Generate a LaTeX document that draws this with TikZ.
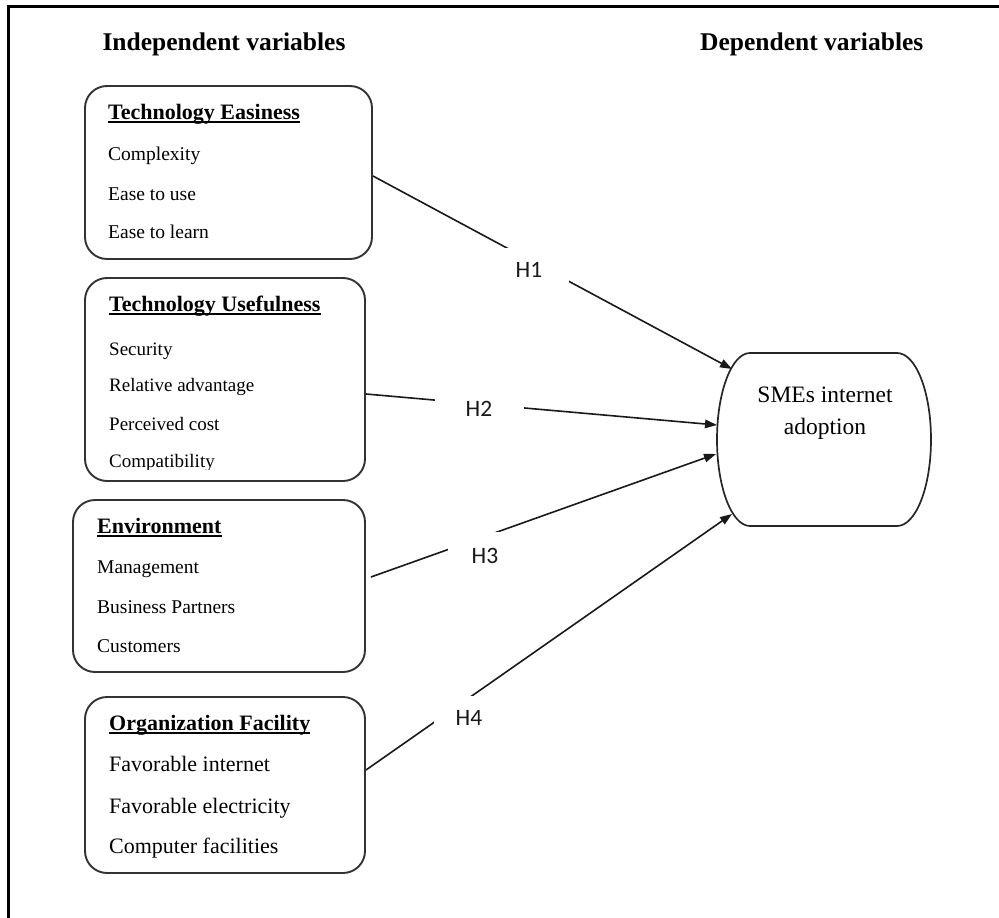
\documentclass[tikz,border=0pt]{standalone}
\usepackage{fontspec}
\setmainfont{Liberation Serif}
\newfontfamily\hlabfont{Carlito}
\usetikzlibrary{arrows.meta}
\tikzset{
  varbox/.style={draw=black!80, line width=1.9pt, rounded corners=22pt, inner sep=0pt},
  hdr/.style={font=\fontsize{25.5}{30}\selectfont\bfseries, inner sep=0pt},
  ttl/.style={font=\fontsize{22}{26}\selectfont\bfseries, inner sep=0pt, anchor=base west},
  itm/.style={font=\fontsize{19.5}{23}\selectfont, inner sep=0pt, anchor=base west},
  itmb/.style={font=\fontsize{22}{26}\selectfont, inner sep=0pt, anchor=base west},
  uline/.style={line width=1.4pt},
  conn/.style={draw=black!90, line width=1.6pt, -{Triangle[length=12pt,width=8.5pt]}},
  hlab/.style={font=\hlabfont\fontsize{23.5}{26}\selectfont, fill=white, inner sep=0pt, text=black!90},
  smeshape/.style={draw=black!85, line width=1.7pt}
}
\begin{document}
\begin{tikzpicture}[x=1pt,y=-1pt]
\useasboundingbox (0,0) rectangle (999,918);
% frame (cropped on the right and bottom)
\draw[line width=3pt] (999,6) -- (8,6) -- (8,918);

% headers
\node[hdr, anchor=base] (ind) at (224,50) {Independent variables};
\node[hdr, anchor=base west] (dep) at (700,50) {Dependent variables};

% boxes
\node[varbox, minimum width=287pt, minimum height=173pt] (b1) at (228.5,172.5) {};
\node[varbox, minimum width=280pt, minimum height=203pt] (b2) at (225,379.5) {};
\node[varbox, minimum width=292pt, minimum height=172pt] (b3) at (219,586) {};
\node[varbox, minimum width=280pt, minimum height=176pt] (b4) at (225,785) {};

% box 1
\node[ttl] (t1) at (108,119) {Technology Easiness};
\draw[uline] ([yshift=-3pt]t1.base west) -- ([yshift=-3pt]t1.base east);
\node[itm] (i11) at (108,160) {Complexity};
\node[itm] (i12) at (108,200) {Ease to use};
\node[itm] (i13) at (108,238) {Ease to learn};

% box 2
\node[ttl] (t2) at (109,311) {Technology Usefulness};
\draw[uline] ([yshift=-3pt]t2.base west) -- ([yshift=-3pt]t2.base east);
\node[itm, font=\fontsize{19}{23}\selectfont] (i21) at (109,355) {Security};
\node[itm, font=\fontsize{19}{23}\selectfont] (i22) at (109,391) {Relative advantage};
\node[itm, font=\fontsize{19}{23}\selectfont] (i23) at (109,430) {Perceived cost};
\begin{scope}
\clip (100,440) rectangle (320,469.5);
\node[itm, font=\fontsize{19}{23}\selectfont] (i24) at (109,467) {Compatibility};
\end{scope}

% box 3
\node[ttl] (t3) at (97,533) {Environment};
\draw[uline] ([yshift=-3pt]t3.base west) -- ([yshift=-3pt]t3.base east);
\node[itm] (i31) at (97,573) {Management};
\node[itm] (i32) at (97,613) {Business Partners};
\node[itm] (i33) at (97,652) {Customers};

% box 4
\node[ttl] (t4) at (109,730) {Organization Facility};
\draw[uline] ([yshift=-3pt]t4.base west) -- ([yshift=-3pt]t4.base east);
\node[itmb] (i41) at (109,771) {Favorable internet};
\node[itmb] (i42) at (109,813) {Favorable electricity};
\node[itmb] (i43) at (109,853) {Computer facilities};

% dependent variable shape
\draw[smeshape] (750,353) -- (897,353)
  arc[start angle=90, end angle=-90, x radius=34pt, y radius=86.5pt]
  -- (750,526)
  arc[start angle=270, end angle=90, x radius=33pt, y radius=86.5pt]
  -- cycle;
\node[font=\fontsize{23.5}{32}\selectfont, align=center, inner sep=0pt] (sme) at (825,413) {SMEs internet\\adoption};

% arrow end points on the shape's left side
\coordinate (t1e) at (732,369);
\coordinate (t2e) at (717,425);
\coordinate (t3e) at (716,454);
\coordinate (t4e) at (732,514);

% connectors
\draw[conn] ([yshift=-3.5pt]b1.east) -- (t1e);
\draw[conn] ([yshift=-14.5pt]b2.east) -- (t2e);
\draw[conn] ([xshift=5pt,yshift=9pt]b3.east) -- (t3e);
\draw[conn] ([yshift=15pt]b4.east) -- (t4e);

% hypothesis labels
\node[hlab, minimum width=80pt, minimum height=44pt] (h1) at (529,270) {H1};
\node[hlab, minimum width=89pt, minimum height=28pt] (h2) at (479,409) {H2};
\node[hlab, minimum width=74pt, minimum height=48pt] (h3) at (485,556) {H3};
\node[hlab, minimum width=70pt, minimum height=44pt] (h4) at (469,718) {H4};
\end{tikzpicture}
\end{document}
